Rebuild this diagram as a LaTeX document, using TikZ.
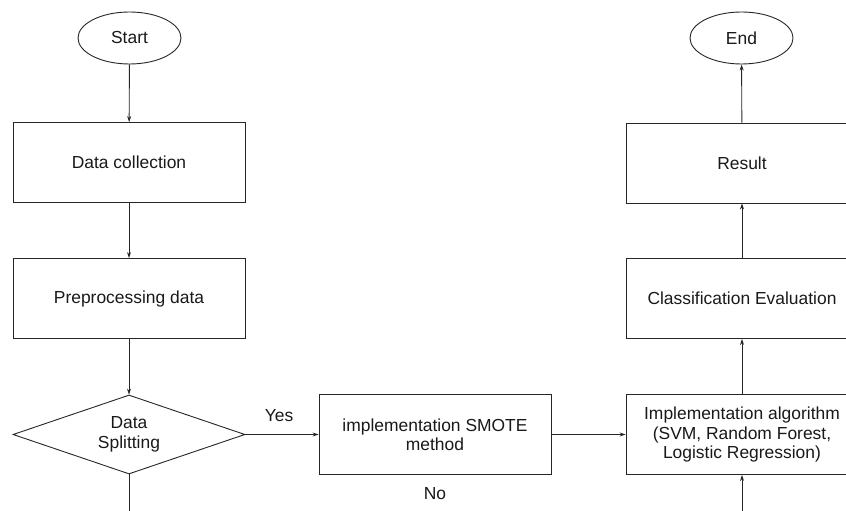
\documentclass[tikz,border=0pt]{standalone}
\usepackage{fontspec}
\setmainfont{Liberation Sans}
\usetikzlibrary{shapes.geometric,arrows.meta}
\begin{document}
\begin{tikzpicture}[x=1bp,y=-1bp,
  font=\fontsize{17.5}{19.5}\selectfont,
  every node/.style={text=black!90},
  box/.style={draw=black!85, line width=0.9bp, minimum width=232bp, minimum height=80bp, inner sep=0pt, align=center},
  term/.style={draw=black!85, line width=0.9bp, ellipse, minimum width=103bp, minimum height=52bp, inner sep=0pt},
  dec/.style={draw=black!85, line width=0.9bp, diamond, shape aspect=2.9, minimum width=232bp, minimum height=79bp, inner sep=0pt, align=center},
  arr/.style={draw=black!85, line width=0.9bp, -{Stealth[length=6bp,width=4bp]}},
  plain/.style={draw=black!85, line width=0.9bp},
  lbl/.style={inner sep=0pt}]
\useasboundingbox (0,0) rectangle (846,511);
\clip (0,0) rectangle (846,511);
% left column
\node[term] (start) at (129.5,38) {Start};
\node[box] (collect) at (129,162.5) {Data collection};
\node[box] (prep) at (129,298.5) {Preprocessing data};
\node[dec] (split) at (129,434.5) {Data\\Splitting};
% middle
\node[box] (smote) at (435,434.5) {implementation SMOTE\\method};
% right column
\node[box] (algo) at (742,434.5) {Implementation algorithm\\(SVM, Random Forest,\\Logistic Regression)};
\node[box] (eval) at (742,298.5) {Classification Evaluation};
\node[box] (result) at (742,163) {Result};
\node[term] (end) at (741.5,38) {End};
% labels
\node[lbl] (yes) at (279,416) {Yes};
\node[lbl] (no) at (435,494) {No};
% free ends
\coordinate (splitend) at (129,520);
\coordinate (algostart) at (742,520);
% connectors
\draw[arr] (start) -- (collect);
\draw[arr] (collect) -- (prep);
\draw[arr] (prep) -- (split.north);
\draw[arr] (split.east) -- (smote.west);
\draw[arr] (smote) -- (algo);
\draw[plain] (split.south) -- (splitend);
\draw[arr] (algostart) -- (algo.south);
\draw[arr] (algo) -- (eval);
\draw[arr] (eval) -- (result);
\draw[arr] (result) -- (end);
\end{tikzpicture}
\end{document}
